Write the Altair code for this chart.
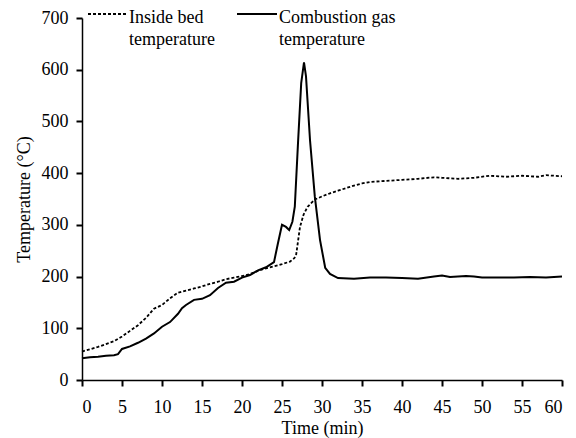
import altair as alt
import pandas as pd

# Combustion gas temperature (solid)
gas_t = [0, 1, 2, 3, 4, 4.5, 5, 6, 7, 8, 9, 10, 11, 12, 12.5, 13, 14, 15, 16, 17, 18, 19, 20,
         21, 22, 23, 24, 24.5, 25, 25.5, 25.9, 26.3, 26.6, 27, 27.4, 27.75, 28, 28.5, 29.1,
         29.75, 30.4, 31, 32, 34, 36, 38, 40, 42, 44, 45, 46, 48, 49, 50, 52, 54, 56, 58, 60]
gas_v = [42, 44, 45, 47, 48, 50, 60, 65, 72, 80, 90, 103, 112, 128, 139, 145, 155, 157, 164,
         178, 188, 190, 198, 203, 212, 218, 228, 265, 300, 296, 290, 306, 335, 458, 574, 614,
         587, 464, 355, 271, 217, 205, 197, 196, 198, 198, 197, 196, 200, 202, 199, 201, 200,
         198, 198, 198, 199, 198, 200]

# Inside bed temperature (dashed)
bed_t = [0, 2, 4, 5, 6, 7, 8, 9, 10, 11, 12, 13, 14, 15, 16, 17, 18, 19, 20, 21, 22, 23, 24,
         25, 26, 26.5, 26.75, 27.25, 27.7, 28.2, 29.1, 30, 31, 32, 33, 34, 35, 36, 38, 40, 42,
         44, 45, 47, 49, 51, 53, 55, 57, 58, 60]
bed_v = [55, 64, 75, 84, 95, 106, 120, 138, 145, 158, 169, 173, 177, 181, 186, 190, 195, 198,
         201, 205, 211, 216, 220, 224, 229, 235, 240, 296, 320, 335, 349, 355, 361, 366, 371,
         376, 380, 383, 385, 387, 389, 392, 391, 389, 391, 395, 393, 395, 393, 396, 394]

x_ticks = list(range(0, 61, 5))
y_ticks = list(range(0, 701, 100))

FONT = "Liberation Serif"

gas = pd.DataFrame({"t": gas_t, "v": gas_v})
bed = pd.DataFrame({"t": bed_t, "v": bed_v})

xenc = alt.X("t:Q", scale=alt.Scale(domain=[0, 60], nice=False),
             axis=alt.Axis(values=x_ticks, title="Time (min)", labelPadding=12, titlePadding=3,
                           labelFont=FONT, titleFont=FONT))
yenc = alt.Y("v:Q", scale=alt.Scale(domain=[0, 700], nice=False),
             axis=alt.Axis(values=y_ticks, title="Temperature (°C)", titlePadding=8,
                           labelPadding=8, labelFont=FONT, titleFont=FONT))

gas_line = alt.Chart(gas).mark_line(color="black", strokeWidth=2).encode(x=xenc, y=yenc)
bed_line = alt.Chart(bed).mark_line(color="black", strokeWidth=1.8, strokeDash=[3, 2]).encode(x=xenc, y=yenc)

# legend drawn manually
leg1_line = alt.Chart(pd.DataFrame({"a": [0]})).mark_rule(color="black", strokeWidth=1.8, strokeDash=[3, 2]).encode(
    x=alt.value(6), x2=alt.value(46), y=alt.value(-4))
leg2_line = alt.Chart(pd.DataFrame({"a": [0]})).mark_rule(color="black", strokeWidth=2).encode(
    x=alt.value(155), x2=alt.value(195), y=alt.value(-4))
leg1_text = alt.Chart(pd.DataFrame({"a": [0]})).mark_text(
    text=["Inside bed", "temperature"], font=FONT, fontSize=18, align="left", baseline="top",
    lineHeight=22, color="black").encode(x=alt.value(47), y=alt.value(-9))
leg2_text = alt.Chart(pd.DataFrame({"a": [0]})).mark_text(
    text=["Combustion gas", "temperature"], font=FONT, fontSize=18, align="left", baseline="top",
    lineHeight=22, color="black").encode(x=alt.value(197), y=alt.value(-9))

chart = alt.layer(bed_line, gas_line, leg1_line, leg2_line, leg1_text, leg2_text).properties(
    width=480, height=362,
    autosize=alt.AutoSizeParams(type="none"),
    padding={"left": 74, "top": 10, "right": 6, "bottom": 58},
).configure(font=FONT).configure_view(stroke=None).configure_axis(
    grid=False, labelFont=FONT, titleFont=FONT, labelFontSize=18, titleFontSize=18,
    titleFontWeight="normal", labelColor="black", titleColor="black",
    domainColor="black", tickColor="black", domainWidth=1.5, tickWidth=2, tickSize=6,
)

chart.save("out.html", embed_options={"renderer": "svg", "actions": False})
